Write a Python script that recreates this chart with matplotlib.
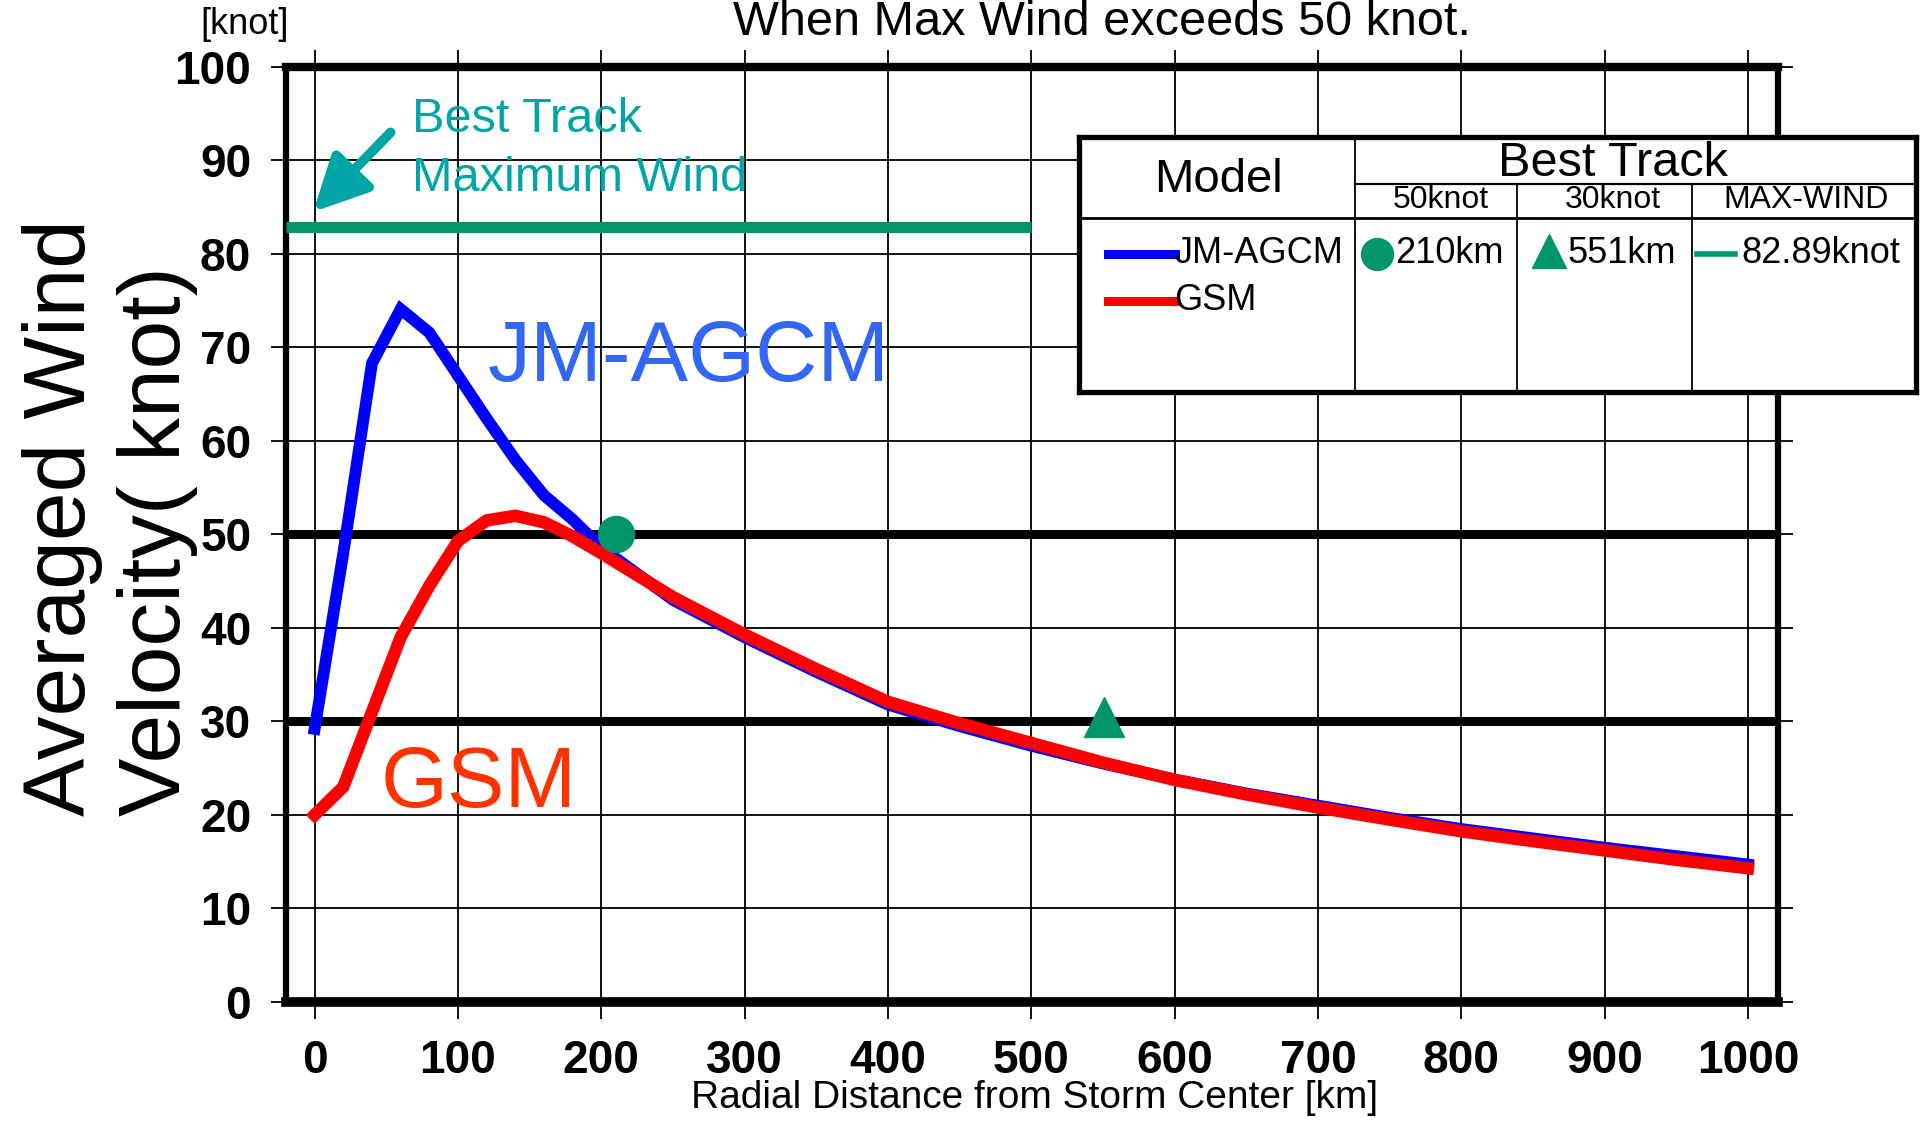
import matplotlib
matplotlib.use("Agg")
import matplotlib.pyplot as plt

plt.rcParams["font.family"] = ["Liberation Sans", "DejaVu Sans"]

# ── Data ─────────────────────────────────────────────────────────────────
radius_km = [0, 20, 40, 60, 80, 100, 120, 140, 160, 180, 200,
             250, 300, 350, 400, 450, 500, 550, 600, 650, 700,
             750, 800, 850, 900, 950, 1000]
jm_agcm = [29.2, 48.0, 68.3, 74.1, 71.6, 67.0, 62.4, 58.0, 54.2, 51.6, 48.6,
           43.0, 39.0, 35.3, 31.8, 29.5, 27.4, 25.5, 23.8, 22.3, 21.0,
           19.7, 18.5, 17.5, 16.5, 15.6, 14.7]
gsm = [20.0, 23.0, 31.0, 39.0, 44.5, 49.3, 51.5, 52.0, 51.3, 49.8, 48.0,
       43.3, 39.3, 35.6, 32.1, 29.8, 27.7, 25.6, 23.75, 22.2, 20.8,
       19.5, 18.25, 17.2, 16.2, 15.2, 14.3]

best_50kt_radius = 210
best_50kt_level = 50.1
best_30kt_radius = 551
best_30kt_level = 30.5
best_max_wind = 82.89
max_wind_from, max_wind_to = -20, 500
ref_levels = [50, 30]

x_ticks = list(range(0, 1001, 100))
y_ticks = list(range(0, 101, 10))

GREEN = "#00966A"
TEAL = "#00A5A5"
BLUE = "#0000FF"
RED = "#FF0000"

# ── Figure ───────────────────────────────────────────────────────────────
fig = plt.figure(figsize=(19.23, 11.22), dpi=100)
ax = fig.add_axes([0.1487, 0.107, 0.7759, 0.8333])
ax.set_xlim(-20, 1021)
ax.set_ylim(0, 100)
ax.set_xticks(x_ticks)
ax.set_yticks(y_ticks)
ax.grid(True, color="black", linewidth=1.3, zorder=1)
ax.set_axisbelow(True)

for lv in ref_levels:
    ax.axhline(lv, color="black", linewidth=6.5, zorder=2)

ax.hlines(best_max_wind, max_wind_from, max_wind_to, color=GREEN,
          linewidth=8, zorder=3)

ax.plot(radius_km, jm_agcm, color=BLUE, linewidth=8.5, zorder=4,
        solid_joinstyle="miter")
ax.plot(radius_km, gsm, color=RED, linewidth=9, zorder=5,
        solid_joinstyle="round")

ax.plot(best_50kt_radius, best_50kt_level, "o", color=GREEN, markersize=26, zorder=6)
ax.plot(best_30kt_radius, best_30kt_level, "^", color=GREEN, markersize=29, zorder=6)

ax.annotate("", xy=(-1, 84.5), xytext=(53, 93),
            arrowprops=dict(arrowstyle="-|>,head_length=1.1,head_width=0.55",
                            color=TEAL, lw=7, shrinkA=0, shrinkB=0,
                            mutation_scale=30), zorder=7)
ax.text(68, 91.2, "Best Track\nMaximum Wind", color=TEAL, fontsize=35,
        ha="left", va="center", linespacing=1.4)

ax.text(121, 68.8, "JM-AGCM", color="#3366F5", fontsize=62, ha="left", va="center")
ax.text(46, 23.2, "GSM", color="#FF3300", fontsize=62, ha="left", va="center")

# spines / ticks
for side, lw in [("left", 4.5), ("right", 4.5), ("top", 6.0), ("bottom", 7.0)]:
    ax.spines[side].set_linewidth(lw)
ax.tick_params(axis="x", which="major", direction="out", length=12, width=1.3,
               pad=15, labelsize=33, top=True, bottom=True)
ax.tick_params(axis="y", which="major", direction="out", length=11, width=1.3,
               pad=14, labelsize=33, left=True, right=True)
for lab in ax.get_xticklabels() + ax.get_yticklabels():
    lab.set_fontweight("bold")

# ── Outer texts ──────────────────────────────────────────────────────────
fig.text(0.573, 0.980, "When Max Wind exceeds 50 knot.", fontsize=35,
         ha="center", va="center")
fig.text(0.127, 0.978, "[knot]", fontsize=26, ha="center", va="center")
fig.text(0.538, 0.0215, "Radial Distance from Storm Center [km]", fontsize=28,
         ha="center", va="center")
fig.text(0.057, 0.273, "Averaged Wind\nVelocity( knot)", fontsize=63,
         rotation=90, ha="center", va="bottom", multialignment="left",
         linespacing=1.22)

# ── Legend table ─────────────────────────────────────────────────────────
lg = fig.add_axes([0.5612, 0.6503, 0.435, 0.2273])
lg.set_xlim(0, 1)
lg.set_ylim(0, 1)
lg.set_xticks([])
lg.set_yticks([])
for s in lg.spines.values():
    s.set_linewidth(3.8)

lg.plot([0.330, 0.330], [0, 1], color="black", lw=1.3)
lg.plot([0.523, 0.523], [0, 0.817], color="black", lw=1.3)
lg.plot([0.733, 0.733], [0, 0.817], color="black", lw=1.3)
lg.plot([0.330, 1], [0.817, 0.817], color="black", lw=1.6)
lg.plot([0, 1], [0.683, 0.683], color="black", lw=2.0)

lg.text(0.166, 0.832, "Model", fontsize=34, ha="center", va="center")
lg.text(0.638, 0.898, "Best Track", fontsize=35, ha="center", va="center")
lg.text(0.432, 0.755, "50knot", fontsize=23, ha="center", va="center")
lg.text(0.638, 0.755, "30knot", fontsize=23, ha="center", va="center")
lg.text(0.869, 0.755, "MAX-WIND", fontsize=23, ha="center", va="center")

lg.plot([0.034, 0.114], [0.543, 0.543], color=BLUE, lw=6.5)
lg.text(0.114, 0.543, "JM-AGCM", fontsize=26, ha="left", va="center")
lg.plot([0.034, 0.114], [0.36, 0.36], color=RED, lw=6.5)
lg.text(0.114, 0.36, "GSM", fontsize=26, ha="left", va="center")

lg.plot(0.356, 0.543, "o", color=GREEN, markersize=23)
lg.text(0.378, 0.543, f"{best_50kt_radius}km", fontsize=26, ha="left", va="center")
lg.plot(0.562, 0.553, "^", color=GREEN, markersize=25)
lg.text(0.584, 0.543, f"{best_30kt_radius}km", fontsize=26, ha="left", va="center")
lg.plot([0.738, 0.784], [0.543, 0.543], color=GREEN, lw=4)
lg.text(0.792, 0.543, f"{best_max_wind:.2f}knot", fontsize=26, ha="left", va="center")

fig.savefig("out.png", dpi=100)
